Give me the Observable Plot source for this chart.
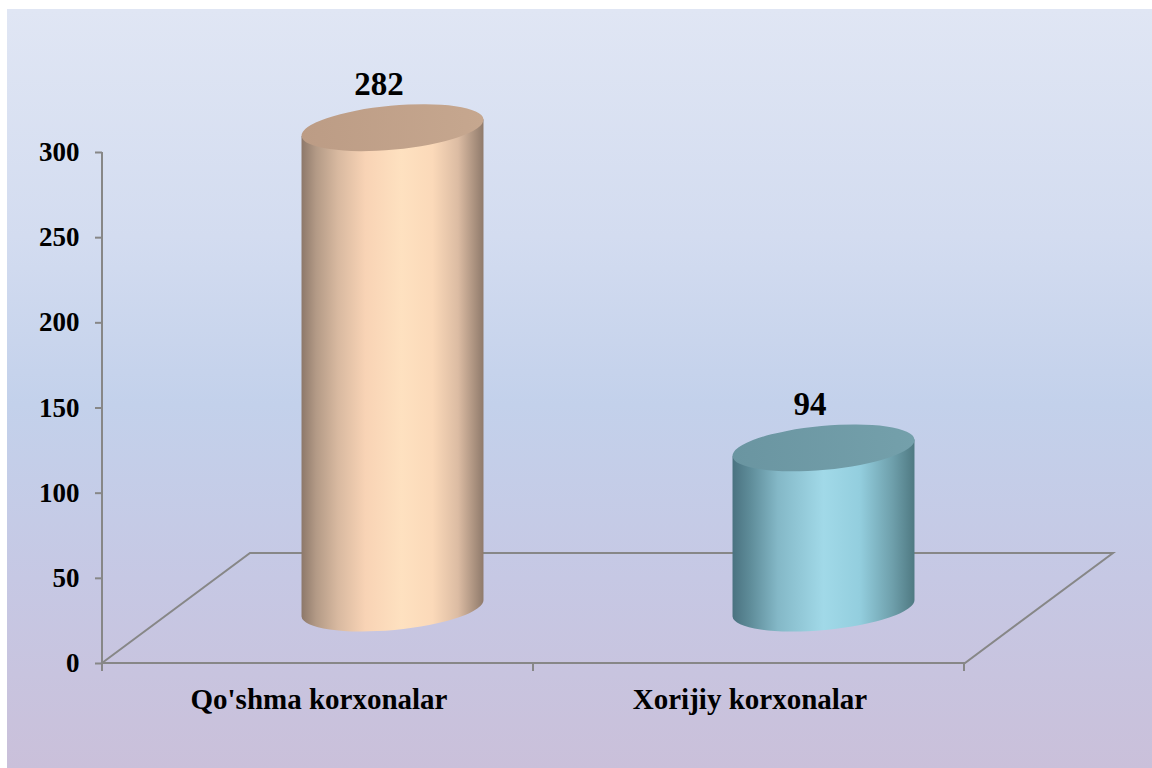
<!DOCTYPE html>
<html><head><meta charset="utf-8">
<script src="https://cdn.jsdelivr.net/npm/d3@7"></script>
<script src="https://cdn.jsdelivr.net/npm/@observablehq/plot@0.6"></script>
<style>
html,body{margin:0;padding:0;background:#fff;}
#wrap{position:relative;width:1152px;height:768px;overflow:hidden;}
#bg{position:absolute;left:7px;top:9px;right:0;bottom:0;
  background:linear-gradient(to bottom,#e0e6f4 0%,#d3dcf0 30%,#c3d1eb 52%,#c6c8e4 75%,#cac0da 100%);}
#chart{position:absolute;left:0;top:0;}
</style></head><body>
<div id="wrap"><div id="bg"></div><div id="chart"></div></div>
<script>
// ---- data ----
const categories = ["Qo'shma korxonalar", "Xorijiy korxonalar"];
const values = [282, 94];
const yTicks = [0, 50, 100, 150, 200, 250, 300];
const yDomain = [0, 300];

const data = categories.map((c, i) => ({category: c, value: values[i]}));

// ---- styles ----
const FONT = "'Liberation Serif', 'Times New Roman', serif";
const AXIS_GRAY = "#878787";
const DEPTH_X = 148, DEPTH_Y = -110;
const palettes = [
  {body: [[0,"#8d786a"],[0.08,"#b39a86"],[0.2,"#d8b9a0"],[0.35,"#f8d3b5"],[0.55,"#fee1c0"],[0.72,"#fbd9b9"],[0.86,"#dcbca3"],[1,"#8f7a6b"]],
   top: ["#bc9c85", "#c6a78f"]},
  {body: [[0,"#4a7280"],[0.1,"#5f8d9a"],[0.25,"#84b8c7"],[0.5,"#a1d9e8"],[0.7,"#93cede"],[0.88,"#6e9fab"],[1,"#4f7982"]],
   top: ["#6a95a1", "#74a0ab"]}
];

function scene(index, scales) {
  const x = scales.x, y = scales.y;
  const g = d3.create("svg:g");
  const defs = g.append("defs");
  const [x0, x1] = x.range();
  const y0 = y(0), yTop = y(yDomain[1]);
  const lineStyle = s => s.attr("fill", "none").attr("stroke", AXIS_GRAY).attr("stroke-width", 2);

  // floor parallelogram
  lineStyle(g.append("path")
    .attr("d", `M${x0},${y0}L${x0 + DEPTH_X},${y0 + DEPTH_Y}L${x1 + DEPTH_X},${y0 + DEPTH_Y}L${x1},${y0}Z`));
  // value axis line
  lineStyle(g.append("path").attr("d", `M${x0},${yTop}L${x0},${y0 + 8}`));
  // category boundary ticks
  const step = x.step();
  for (let i = 0; i <= categories.length; i++) {
    const xi = x0 + i * step;
    lineStyle(g.append("path").attr("d", `M${xi},${y0}L${xi},${y0 + 8}`));
  }

  // cylinders
  const angleDeg = -5.3, a = angleDeg * Math.PI / 180;
  data.forEach((d, i) => {
    const pal = palettes[i % palettes.length];
    const cx = x(d.category) + x.bandwidth() / 2 + DEPTH_X / 2;
    const baseY = y(0) + DEPTH_Y / 2;
    const topY = y(d.value) + DEPTH_Y / 2;
    const rx = x.bandwidth() * 0.212, ry = 22;
    const ex = rx * Math.cos(a), ey = rx * Math.sin(a);

    const gid = "body" + i, tid = "top" + i;
    const lg = defs.append("linearGradient").attr("id", gid).attr("x1", 0).attr("x2", 1).attr("y1", 0).attr("y2", 0);
    pal.body.forEach(([o, c]) => lg.append("stop").attr("offset", o).attr("stop-color", c));
    const tg = defs.append("linearGradient").attr("id", tid).attr("x1", 0).attr("x2", 1).attr("y1", 0).attr("y2", 0);
    tg.append("stop").attr("offset", 0).attr("stop-color", pal.top[0]);
    tg.append("stop").attr("offset", 1).attr("stop-color", pal.top[1]);

    g.append("path")
      .attr("d", `M${cx - ex},${topY - ey}L${cx - ex},${baseY - ey}` +
                 `A${rx},${ry},${angleDeg},0,0,${cx + ex},${baseY + ey}` +
                 `L${cx + ex},${topY + ey}Z`)
      .attr("fill", `url(#${gid})`);
    g.append("ellipse")
      .attr("cx", cx).attr("cy", topY).attr("rx", rx).attr("ry", ry)
      .attr("transform", `rotate(${angleDeg},${cx},${topY})`)
      .attr("fill", `url(#${tid})`);
  });
  return g.node();
}

const chart = Plot.plot({
  width: 1152,
  height: 768,
  marginLeft: 102,
  marginRight: 187,
  marginTop: 152,
  marginBottom: 105,
  style: {background: "transparent", fontFamily: FONT, overflow: "visible"},
  x: {type: "band", domain: categories, padding: 0},
  y: {domain: yDomain},
  marks: [
    scene,
    Plot.axisY(yTicks, {
      tickSize: 7, tickPadding: 16, stroke: AXIS_GRAY, strokeWidth: 2, fill: "#000",
      fontSize: 27, fontWeight: "bold", fontFamily: FONT, label: null
    }),
    Plot.axisX({
      tickSize: 0, tickPadding: 25, fill: "#000",
      fontSize: 29, fontWeight: "bold", fontFamily: FONT, label: null
    }),
    Plot.text(data, {
      x: "category", y: "value", text: d => String(d.value),
      dx: 60, dy: -99, fontSize: 33, fontWeight: "bold", fontFamily: FONT, fill: "#000"
    })
  ]
});
document.getElementById("chart").appendChild(chart);
</script>
</body></html>
